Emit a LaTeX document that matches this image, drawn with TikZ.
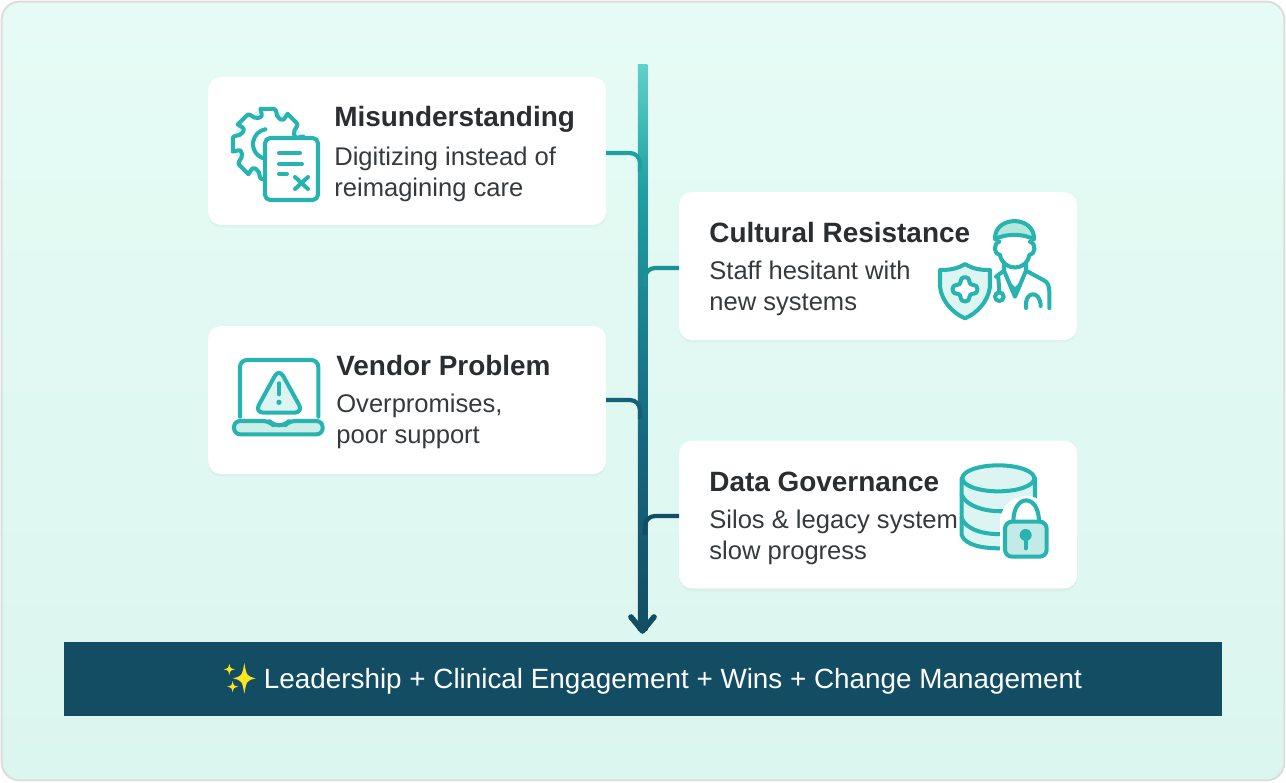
\documentclass[tikz,border=0pt]{standalone}
\usepackage{xcolor}
\usepackage{fontspec}
\setmainfont{Liberation Sans}
\usetikzlibrary{calc, positioning, shadows}
\definecolor{panelTop}{HTML}{E6FBF5}
\definecolor{panelMid}{HTML}{D6F5ED}
\definecolor{panelBot}{HTML}{DBF6EF}
\definecolor{panelEdge}{HTML}{DDDDDB}
\definecolor{navy}{HTML}{134D63}
\definecolor{iconTeal}{HTML}{27B3B0}
\definecolor{iconFill}{HTML}{DDF5F2}
\definecolor{iconDark}{HTML}{B4E8DD}
\definecolor{inkTitle}{HTML}{2B2E30}
\definecolor{inkBody}{HTML}{363A3C}
\definecolor{spark}{HTML}{FCE51E}
\definecolor{trunkA}{HTML}{5FD2C8}
\definecolor{trunkB}{HTML}{1FA0A2}
\definecolor{trunkC}{HTML}{17687F}
\pgfdeclareverticalshading{trunkshade}{100bp}{color(0bp)=(navy); color(25bp)=(navy); color(42bp)=(trunkC); color(64bp)=(trunkB); color(75bp)=(trunkA); color(100bp)=(trunkA)}
\begin{document}
\begin{tikzpicture}[
        x=0.02cm, y=-0.02cm,
        % Define styles for consistency
        panel/.style={
            rectangle,
            rounded corners=0.36cm,
            draw=panelEdge,
            line width=1.1pt,
            top color=panelTop,
            middle color=panelMid,
            bottom color=panelBot,
            minimum width=25.66cm,
            minimum height=15.58cm
        },
        card/.style={
            rectangle,
            rounded corners=0.26cm,
            fill=white,
            minimum width=7.96cm,
            minimum height=2.96cm,
            drop shadow={opacity=0.05, shadow xshift=0pt, shadow yshift=-1.5pt}
        },
        trunk/.style={
            rectangle,
            shading=trunkshade,
            inner sep=0pt,
            minimum width=0.19cm,
            minimum height=11.34cm
        },
        goal/.style={
            rectangle,
            fill=navy,
            minimum width=23.16cm,
            minimum height=1.48cm
        },
        title/.style={
            anchor=west,
            inner sep=0pt,
            text=inkTitle,
            font=\fontsize{15.9}{20}\selectfont\bfseries
        },
        body/.style={
            anchor=west,
            inner sep=0pt,
            align=left,
            text=inkBody,
            font=\fontsize{14.55}{17.6}\selectfont
        },
        goaltext/.style={
            inner sep=0pt,
            text=white,
            font=\fontsize{15.85}{18}\selectfont
        },
        branch/.style={
            draw,
            line width=2.4pt,
            rounded corners=0.2cm
        },
        tip/.style={
            draw=navy,
            line width=3.2pt,
            line cap=round,
            line join=round
        },
        icon/.style={
            draw=iconTeal,
            line width=2.3pt,
            line cap=round,
            line join=round
        }
    ]

    % --- BACKGROUND ---
    \useasboundingbox (0,0) rectangle (1286,782);
    \node[panel] (bg) at (643,391) {};

    % --- CARDS ---
    \node[card] (mis) at (407,151) {};
    \node[card] (cult) at (878,266) {};
    \node[card] (vend) at (407,400) {};
    \node[card] (gov) at (878,514.5) {};

    % --- TIMELINE ---
    \node[trunk] (spine) at (642.5,347.5) {};
    \node[goal] (bar) at (643,679) {};

    % Where the branches leave the cards and join the spine
    \coordinate (misOut) at (606,153);
    \coordinate (misIn) at (640,172);
    \coordinate (cultOut) at (679,268);
    \coordinate (cultIn) at (645,287);
    \coordinate (vendOut) at (606,400);
    \coordinate (vendIn) at (640,419);
    \coordinate (govOut) at (679,516);
    \coordinate (govIn) at (645,535);

    \draw[branch, draw=trunkB] (misOut) -| (misIn);
    \draw[branch, draw=trunkB!80!navy] (cultOut) -| (cultIn);
    \draw[branch, draw=trunkC!70!navy] (vendOut) -| (vendIn);
    \draw[branch, draw=navy] (govOut) -| (govIn);

    % Arrow head at the end of the spine
    \coordinate (tipL) at (631,617);
    \coordinate (tipM) at (642.5,631);
    \coordinate (tipR) at (654,617);
    \draw[tip] (tipL) -- (tipM) -- (tipR);

    % --- TEXT ---
    \node[title] (misTitle) at (334,119) {Misunderstanding};
    \node[body] (misBody) at (334,174) {Digitizing instead of\\reimagining care};
    \node[title] (cultTitle) at (709,233) {Cultural Resistance};
    \node[body] (cultBody) at (709,288) {Staff hesitant with\\new systems};
    \node[title] (vendTitle) at (336,366) {Vendor Problem};
    \node[body] (vendBody) at (336,421) {Overpromises,\\poor support};
    \node[title] (govTitle) at (709,482) {Data Governance};
    \node[body] (govBody) at (709,537) {Silos \& legacy system\\slow progress};
    \node[goaltext] (goalText) at (673,681) {Leadership + Clinical Engagement + Wins + Change Management};

    % --- SPARKLES ---
    \begin{scope}[shift={(210,650)}, scale=1/3]
        \foreach \sx/\sy/\rx/\ry/\k in {103/85/34/46/7, 58/58/17/17/3, 68/110/17/17/3} {
            \fill[spark] (\sx,\sy-\ry) .. controls (\sx+\k,\sy-\k) .. (\sx+\rx,\sy)
                .. controls (\sx+\k,\sy+\k) .. (\sx,\sy+\ry)
                .. controls (\sx-\k,\sy+\k) .. (\sx-\rx,\sy)
                .. controls (\sx-\k,\sy-\k) .. cycle;
        }
    \end{scope}

    % --- ICON: GEAR AND DOCUMENT ---
    \begin{scope}[shift={(268,144)}]
        \filldraw[icon, fill=iconFill, rounded corners=1.2pt]
            \foreach \a in {0,45,...,315} {
                (\a-12:36) -- (\a+12:36) -- (\a+20:28) -- (\a+33:28) -- (\a+45-12:36)
            };
        \draw[icon] (100:15) arc (100:260:15);
    \end{scope}
    \filldraw[icon, fill=white, rounded corners=3pt] (265,138) rectangle (318,200);
    \draw[icon] (279,153) -- (300,153);
    \draw[icon] (279,164) -- (302,164);
    \draw[icon] (279,174) -- (287,174);
    \draw[icon] (295,177) -- (308,189);
    \draw[icon] (308,177) -- (295,189);

    % --- ICON: DOCTOR AND SHIELD ---
    \begin{scope}[shift={(920,200)}, scale=1/3]
        % Cap
        \filldraw[icon, fill=iconDark] (225,118) .. controls (222,45) and (345,45) .. (342,118)
            .. controls (310,100) and (255,100) .. cycle;
        % Face
        \draw[icon] (238,125) .. controls (218,130) and (222,165) .. (240,165)
            .. controls (250,215) and (320,215) .. (328,165)
            .. controls (346,165) and (350,130) .. (330,125);
        % Shoulders and collar
        \draw[icon] (252,192) -- (252,212) -- (285,290) -- (318,212) -- (318,192);
        \draw[icon] (252,212) -- (228,230);
        \draw[icon] (318,212) -- (370,240) .. controls (385,250) .. (388,275) -- (388,324);
        \draw[icon] (270,255) -- (285,270) -- (300,255);
        % Stethoscope
        \draw[icon] (235,232) -- (238,276);
        \draw[icon] (238,290) circle (13);
        \draw[icon] (318,324) .. controls (312,270) and (362,270) .. (362,318);
        % Shield
        \filldraw[icon, fill=iconFill] (135,192) .. controls (110,208) and (85,210) .. (60,210)
            -- (60,260) .. controls (65,305) and (100,340) .. (135,355)
            .. controls (170,340) and (205,305) .. (210,260) -- (210,210)
            .. controls (185,210) and (160,208) .. cycle;
        \filldraw[icon, fill=white, rounded corners=2pt]
            (122,232) -- (148,232) -- (148,255) -- (172,255) -- (172,281) -- (148,281)
            -- (148,304) -- (122,304) -- (122,281) -- (98,281) -- (98,255) -- (122,255) -- cycle;
    \end{scope}

    % --- ICON: LAPTOP ---
    \begin{scope}[shift={(220,345)}, scale=1/3]
        \draw[icon, rounded corners=4pt] (60,215) -- (60,45) -- (295,45) -- (295,215);
        \filldraw[icon, fill=iconDark!70!white, rounded corners=3.5pt]
            (42,228) -- (148,228) -- (160,241) -- (195,241) -- (207,228) -- (308,228)
            -- (308,268) -- (42,268) -- cycle;
        \filldraw[icon, fill=iconFill, rounded corners=5pt] (177,70) -- (250,203) -- (104,203) -- cycle;
        \draw[icon] (177,115) -- (177,148);
        \fill[iconTeal] (177,172) circle (8);
    \end{scope}

    % --- ICON: DATABASE AND LOCK ---
    \begin{scope}[shift={(945,450)}, scale=1/3]
        \filldraw[icon, fill=iconFill] (50,85) -- (50,255) .. controls (60,285) and (110,295) .. (165,295)
            -- (270,295) -- (270,85) -- cycle;
        \filldraw[icon, fill=iconFill] (160,85) ellipse (108 and 39);
        \draw[icon] (50,135) .. controls (65,170) and (130,190) .. (195,182);
        \draw[icon] (50,205) .. controls (65,240) and (120,255) .. (175,252);
        % Halo around the lock
        \fill[white] (165,340) -- (165,205) .. controls (185,115) and (300,115) .. (320,205)
            -- (320,340) -- cycle;
        % Lock
        \draw[icon] (205,215) .. controls (205,130) and (282,130) .. (282,215);
        \filldraw[icon, fill=iconFill!85!iconTeal, rounded corners=4pt] (180,215) rectangle (305,320);
        \fill[iconTeal] (242,255) circle (18);
        \draw[icon] (242,260) -- (242,295);
    \end{scope}

\end{tikzpicture}
\end{document}
